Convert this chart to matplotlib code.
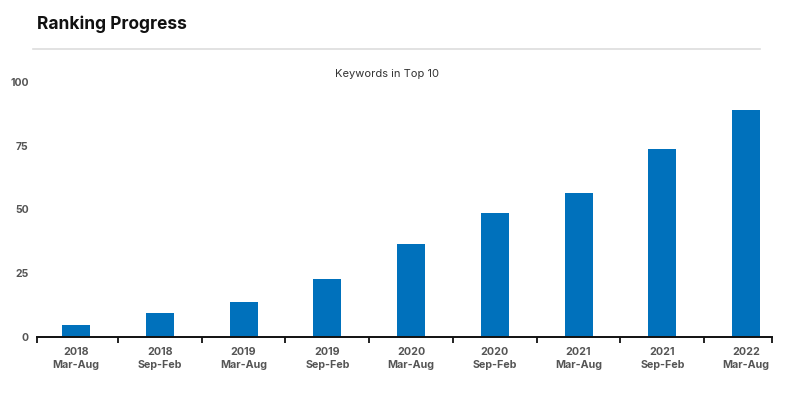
import matplotlib
matplotlib.use("Agg")
import matplotlib.pyplot as plt
from matplotlib.lines import Line2D

years = ["2018", "2018", "2019", "2019", "2020", "2020", "2021", "2021", "2022"]
periods = ["Mar-Aug", "Sep-Feb", "Mar-Aug", "Sep-Feb", "Mar-Aug", "Sep-Feb", "Mar-Aug", "Sep-Feb", "Mar-Aug"]
values = [4.7, 9.4, 13.7, 22.7, 36.5, 48.6, 56.5, 73.7, 89.0]
yticks = [0, 25, 50, 75, 100]

plt.rcParams['font.family'] = ['Inter', 'DejaVu Sans']

W, H = 790, 396
fig = plt.figure(figsize=(W / 100, H / 100), dpi=100)
ax = fig.add_axes([37 / W, 1 - 337 / H, (772 - 37) / W, (337 - 82) / H])

x = list(range(len(values)))
ax.bar(x, values, width=0.334, color="#0071BC", zorder=2)

ax.set_xlim(-0.466, 8.31)
ax.set_ylim(0, 100)

for s in ["top", "right", "left"]:
    ax.spines[s].set_visible(False)
ax.spines["bottom"].set_linewidth(1.4)
ax.spines["bottom"].set_color("#111111")

ax.set_yticks(yticks)
ax.set_yticklabels([str(v) for v in yticks], fontsize=7.5, fontweight="bold", color="#555555")
ax.tick_params(axis="y", length=0, pad=6)

bounds = [-0.466] + [i + 0.5 for i in range(len(values) - 1)] + [8.31]
ax.set_xticks(bounds)
ax.set_xticklabels([""] * len(bounds))
ax.tick_params(axis="x", length=4, width=1.3, color="#111111", direction="out")
ax.set_xticks(x, minor=True)
ax.set_xticklabels([f"{y}\n{p}" for y, p in zip(years, periods)], minor=True,
                   fontsize=7.7, fontweight="bold", color="#555555", linespacing=1.35)
ax.tick_params(axis="x", which="minor", length=0, pad=7.5)

fig.text(37 / W, 1 - 24 / H, "Ranking Progress", fontsize=12.5, fontweight="bold",
         color="#111111", ha="left", va="center")
fig.add_artist(Line2D([33 / W, 760 / W], [1 - 48.5 / H, 1 - 48.5 / H], color="#DDDDDD", lw=1.2))
fig.text(387 / W, 1 - 74 / H, "Keywords in Top 10", fontsize=8, color="#333333",
         ha="center", va="center")

fig.savefig("out.png", dpi=100, facecolor="white")
